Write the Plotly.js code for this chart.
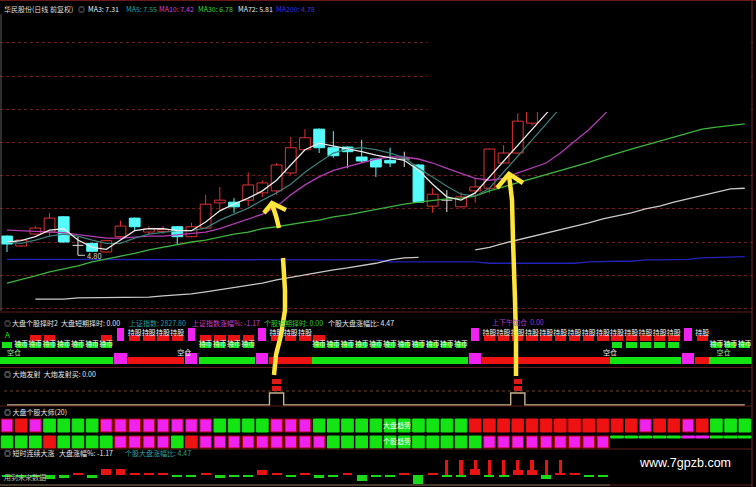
<!DOCTYPE html>
<html><head><meta charset="utf-8">
<script src="https://cdn.plot.ly/plotly-3.0.1.min.js"></script>
<style>html,body{margin:0;padding:0;background:#000;}#chart{width:756px;height:487px;}</style>
</head><body><div id="chart"></div>
<script>
// ---------------- DATA ----------------
const candleOpen  = [5.09,4.94,5.12,5.15,5.38,4.95,4.98,4.85,5.08,5.36,5.15,5.16,5.23,5.08,5.21,5.59,5.60,5.63,5.74,5.77,6.04,6.39,6.70,6.42,6.43,6.28,6.25,6.23,6.25,6.16,5.54,5.63,5.53,5.77,5.81,6.19,6.34,6.79];
const candleHigh  = [5.10,5.04,5.24,5.44,5.39,5.08,4.99,5.03,5.32,5.37,5.24,5.24,5.24,5.29,5.71,5.83,5.66,6.05,5.93,6.19,6.58,6.70,6.71,6.67,6.44,6.54,6.26,6.42,6.36,6.17,5.81,5.78,5.75,5.96,6.41,6.46,6.94,7.12];
const candleLow   = [4.85,4.93,5.11,5.08,4.99,4.80,4.85,4.84,5.07,5.18,5.12,5.12,4.97,5.07,5.20,5.48,5.44,5.54,5.68,5.71,6.01,6.37,6.34,6.27,6.11,6.19,5.98,6.13,6.13,5.59,5.44,5.45,5.52,5.59,5.74,6.18,6.33,6.75];
const candleClose = [4.97,5.03,5.21,5.36,5.00,4.95,4.86,5.02,5.24,5.23,5.20,5.19,5.08,5.23,5.57,5.63,5.53,5.86,5.89,6.16,6.42,6.57,6.42,6.30,6.36,6.22,6.13,6.19,6.25,5.60,5.72,5.63,5.68,5.83,6.40,6.34,6.82,7.05];

const ma3  = [5.00,5.02,5.08,5.18,5.20,5.03,4.92,4.89,5.03,5.17,5.20,5.20,5.17,5.17,5.30,5.47,5.57,5.66,5.77,5.93,6.16,6.39,6.49,6.45,6.40,6.36,6.31,6.27,6.23,6.08,5.87,5.68,5.63,5.74,5.98,6.22,6.45,6.69,6.93,7.17];
const ma5  = [5.00,4.98,5.03,5.09,5.12,5.09,5.03,4.98,4.98,5.06,5.12,5.15,5.17,5.17,5.21,5.33,5.42,5.51,5.63,5.74,5.87,6.05,6.20,6.34,6.40,6.42,6.39,6.34,6.27,6.11,5.98,5.84,5.72,5.69,5.81,6.05,6.30,6.54,6.78,7.02];
const ma10 = [5.18,5.17,5.17,5.15,5.14,5.11,5.08,5.06,5.06,5.08,5.09,5.09,5.11,5.12,5.15,5.20,5.27,5.35,5.42,5.53,5.71,5.86,5.98,6.08,6.14,6.20,6.25,6.28,6.28,6.25,6.19,6.11,6.04,5.96,5.93,5.96,6.04,6.11,6.19,6.34,6.51,6.69,6.90,7.14];
const ma30 = [4.38,4.43,4.49,4.55,4.59,4.64,4.70,4.74,4.79,4.83,4.88,4.92,4.97,5.00,5.03,5.08,5.12,5.15,5.20,5.23,5.27,5.30,5.33,5.38,5.41,5.45,5.50,5.54,5.57,5.60,5.63,5.65,5.66,5.69,5.77,5.83,5.89,5.95,6.01,6.07,6.14,6.20,6.27,6.34,6.40,6.46,6.52,6.58,6.64,6.70,6.73,6.76,6.78];
const ma72 = [null,null,4.14,4.14,4.14,4.16,4.16,4.16,4.17,4.17,4.17,4.19,4.20,4.22,4.25,4.28,4.31,4.34,4.38,4.43,4.47,4.50,4.55,4.58,4.61,4.64,4.68,4.73,4.76,4.77,null,null,null,4.88,4.92,4.98,5.03,5.09,5.14,5.18,5.24,5.29,5.35,5.39,5.44,5.50,5.54,5.60,5.65,5.69,5.75,5.80,5.81];
const ma200 = [4.74,4.74,4.74,4.74,4.74,4.74,4.74,4.74,4.74,4.74,4.74,4.74,4.74,4.74,4.74,4.73,4.73,4.73,4.73,4.73,4.73,4.73,4.73,4.73,4.73,4.73,4.73,4.70,4.70,4.70,4.70,4.70,4.70,4.70,4.68,4.68,4.68,4.68,4.68,4.68,4.68,4.70,4.71,4.71,4.71,4.73,4.73,4.73,4.74,4.76,4.77,4.78,4.78];

const maNames = ['MA3','MA5','MA10','MA30','MA72','MA200'];
const maLast  = ['7.31','7.55','7.42','6.78','5.81','4.78'];

// panel 2: 大盘个股择时2  (G=持币 green, R=持股 red, M=magenta switch, B=both)
const bandState  = 'GGGGGGGGMRRRRMGGGGMRRRGGGGGGGGGGGMRRRRRRRRRGGGGGMRGGG'.split('');
const shortState = 'GGBBGGGBMRRRRMBBBBMRRRBGGGGGGGGGGMRRRRRRRRRBBBBBMRGGG'.split('');
const shortLabel = '-CCCCCCC-SSSS-CCCC-SSSCCCCCCCCCCC-SSSSSSSSSSSSSS-SCCC'.split('');
const emptyBars  = [0, 12, 42, 50];   // 空仓

// panel 3: 大炮发射
const launch = [0,0,0,0,0,0,0,0,0,0,0,0,0,0,0,0,0,0,0,1,0,0,0,0,0,0,0,0,0,0,0,0,0,0,0,0,1,0,0,0,0,0,0,0,0,0,0,0,0,0,0,0,0];

// panel 4: 大盘个股大师(20)
const marketTrend = 'MRMGGGGMMMMMMMMGGGGMMMGGGGGGGGGGGRRRRRRRRRRRRMRRMRGGG'.split('');
const stockTrend  = 'GGGRGGGGMMMMGRMMMMMMMMMGGGGGGGGGGGMMMMMMMMMgggggmmggg'.split('');

// panel 5: 短时连续大涨
const dayChg = [-1,-1,-1,-4,-3,2,-3,5,5,1,2,1,-1,-1,1,-3,-1,-1,4,1,-2,2,-3,-1,1,-5,-1,-1,1,-8,1,-2,-2,5,-2,-2,4,4,-4,2,1,-1,-2];
const surge  = [0,0,0,0,0,0,0,0,0,0,0,0,0,0,0,0,0,0,0,0,0,0,0,0,0,0,0,0,0,0,0,1,1,1,1,1,1,1,1,1,0,0,0];

// ---------------- HELPERS ----------------
const W = 756, H = 487;
const FONT = '"Noto Sans CJK SC", "Noto Sans", sans-serif';
const px = x => x / W;
const py = y => 1 - y / H;
const dom = (top, bot) => [1 - bot / H, 1 - top / H];
const idx = Array.from({length: bandState.length}, (_, i) => i);

const GREEN = '#14e414', RED = '#ee1212', MAG = '#f022f0';
const COL = {G: GREEN, R: RED, M: MAG, g: GREEN, m: MAG};
const UP = '#dc3232', DN = '#54fcfc', DOJI = '#e6e6e6';

function label(text, x, y, color, size, family) {
  return {text, x: px(x), y: py(y), xref: 'paper', yref: 'paper', xanchor: 'left', yanchor: 'middle',
    showarrow: false, font: {family: family || FONT, size: size || 7, color: color}};
}
function hline(y, x0, x1, color, dash) {
  return {type: 'line', xref: 'paper', yref: 'paper', x0: px(x0), x1: px(x1), y0: py(y), y1: py(y),
    line: {color: color, width: 1, dash: dash || 'solid'}, layer: 'above'};
}
function pathPx(points) {
  return points.map((p, i) => (i ? 'L' : 'M') + px(p[0]).toFixed(5) + ',' + py(p[1]).toFixed(5)).join(' ');
}

// ---------------- TRACES ----------------
const traces = [];
const cx = candleOpen.map((_, i) => i);
const upC = cx.filter(i => candleClose[i] > candleOpen[i]);
const dnC = cx.filter(i => candleClose[i] < candleOpen[i]);
const djC = cx.filter(i => candleClose[i] === candleOpen[i]);
const BODY_W = 0.76;

// candle bodies
traces.push({type: 'bar', x: upC, base: upC.map(i => candleOpen[i]), y: upC.map(i => candleClose[i] - candleOpen[i]),
  width: BODY_W, marker: {color: '#000000', line: {color: UP, width: 1}}, xaxis: 'x', yaxis: 'y', hoverinfo: 'skip'});
traces.push({type: 'bar', x: dnC, base: dnC.map(i => candleClose[i]), y: dnC.map(i => candleOpen[i] - candleClose[i]),
  width: BODY_W, marker: {color: DN, line: {color: DN, width: 1}}, xaxis: 'x', yaxis: 'y', hoverinfo: 'skip'});
// wicks (upper and lower shadows, outside the body)
function wicks(ids) {
  const x = [], y = [];
  ids.forEach(i => {
    const top = Math.max(candleOpen[i], candleClose[i]), bot = Math.min(candleOpen[i], candleClose[i]);
    x.push(i, i, null, i, i, null);
    y.push(candleHigh[i], top, null, bot, candleLow[i], null);
  });
  return {x, y};
}
[[upC, UP], [dnC, DN], [djC, DOJI]].forEach(([ids, c]) => {
  const w = wicks(ids);
  traces.push({type: 'scatter', mode: 'lines', x: w.x, y: w.y, line: {color: c, width: 1}, connectgaps: false,
    xaxis: 'x', yaxis: 'y', hoverinfo: 'skip'});
});
// doji cross bars
const djx = [], djy = [];
djC.forEach(i => { djx.push(i - BODY_W / 2, i + BODY_W / 2, null); djy.push(candleOpen[i], candleOpen[i], null); });
traces.push({type: 'scatter', mode: 'lines', x: djx, y: djy, line: {color: DOJI, width: 1}, connectgaps: false,
  xaxis: 'x', yaxis: 'y', hoverinfo: 'skip'});

const maSeries = [[ma200, '#2222b8'], [ma72, '#c8c8c8'], [ma30, '#3cb43c'], [ma10, '#b43cb4'], [ma5, '#3a7c78'], [ma3, '#e8e8e8']];
maSeries.forEach(([arr, c]) => traces.push({type: 'scatter', mode: 'lines', x: idx.slice(0, arr.length), y: arr,
  line: {color: c, width: 1.3}, connectgaps: false, xaxis: 'x', yaxis: 'y', hoverinfo: 'skip'}));

// panel 2
traces.push({type: 'bar', x: idx, y: bandState.map(s => s === 'M' ? 11 : 7), base: 2,
  width: bandState.map(s => s === 'M' ? 0.85 : 1.0), marker: {color: bandState.map(s => COL[s]), line: {width: 0}},
  xaxis: 'x', yaxis: 'y2', hoverinfo: 'skip'});
const upRed = idx.filter(i => shortState[i] === 'R' || shortState[i] === 'B');
const upGreen = idx.filter(i => shortState[i] === 'G' || shortState[i] === 'B');
const upMag = idx.filter(i => shortState[i] === 'M');
traces.push({type: 'bar', x: upRed, y: upRed.map(() => 6), base: 25, width: 0.8,
  marker: {color: '#e81414', line: {width: 0}}, xaxis: 'x', yaxis: 'y2', hoverinfo: 'skip'});
traces.push({type: 'bar', x: upGreen, y: upGreen.map(() => 6), base: 18, width: 0.76,
  marker: {color: '#18e018', line: {width: 0}}, xaxis: 'x', yaxis: 'y2', hoverinfo: 'skip'});
traces.push({type: 'bar', x: upMag, y: upMag.map(() => 13), base: 25, width: 0.55,
  marker: {color: MAG, line: {width: 0}}, xaxis: 'x', yaxis: 'y2', hoverinfo: 'skip'});
const lblS = idx.filter(i => shortLabel[i] === 'S');
const lblC = idx.filter(i => shortLabel[i] === 'C');
traces.push({type: 'scatter', mode: 'text', x: lblS, y: lblS.map(() => 33), text: lblS.map(() => '持股'),
  textfont: {family: FONT, size: 7, color: '#f4f4f4'}, cliponaxis: false, xaxis: 'x', yaxis: 'y2', hoverinfo: 'skip'});
traces.push({type: 'scatter', mode: 'text', x: lblC, y: lblC.map(() => 21.5), text: lblC.map(() => '持币'),
  textfont: {family: FONT, size: 7, color: '#f4f4f4'}, cliponaxis: false, xaxis: 'x', yaxis: 'y2', hoverinfo: 'skip'});
traces.push({type: 'scatter', mode: 'text', x: emptyBars, y: emptyBars.map(() => 12.5), text: emptyBars.map(() => '空仓'),
  textposition: 'middle right', textfont: {family: FONT, size: 7, color: emptyBars.map((b, k) => (k === 0 || k === 3) ? '#9ce89c' : '#f0f0f0')},
  cliponaxis: false, xaxis: 'x', yaxis: 'y2', hoverinfo: 'skip'});

// panel 3
traces.push({type: 'scatter', mode: 'lines', x: idx, y: launch, line: {color: '#c8b48c', width: 1.4, shape: 'hvh'},
  xaxis: 'x', yaxis: 'y3', hoverinfo: 'skip'});
const fire = idx.filter(i => launch[i] === 1);
const fireX = fire.concat(fire);
traces.push({type: 'bar', x: fireX, y: fireX.map(() => 0.42), base: fire.map(() => 1.17).concat(fire.map(() => 1.75)),
  width: 0.6, marker: {color: '#e01818', line: {width: 0}}, xaxis: 'x', yaxis: 'y3', hoverinfo: 'skip'});

// panel 4
traces.push({type: 'bar', x: idx, y: idx.map(() => 13), base: 16, width: 0.82,
  marker: {color: marketTrend.map(s => COL[s]), line: {color: marketTrend.map(s => s === 'M' ? '#b80000' : COL[s]), width: 1}},
  xaxis: 'x', yaxis: 'y4', hoverinfo: 'skip'});
traces.push({type: 'bar', x: idx, y: stockTrend.map(s => (s === 'g' || s === 'm') ? 2 : 12),
  base: stockTrend.map(s => (s === 'g' || s === 'm') ? 10 : 0), width: stockTrend.map(s => (s === 'g' || s === 'm') ? 0.9 : 0.82),
  marker: {color: stockTrend.map(s => COL[s]), line: {color: stockTrend.map(s => s === 'M' ? '#b80000' : COL[s]), width: 1}},
  xaxis: 'x', yaxis: 'y4', hoverinfo: 'skip'});

// panel 5
const d5 = dayChg.map((_, i) => i);
traces.push({type: 'bar', x: d5, y: dayChg.map(v => v > 0 ? Math.max(v * 1.2, 2) : -Math.max(-v * 1.2, 2.5)),
  base: dayChg.map(v => v > 0 ? 0 : 0.5), width: 0.7,
  marker: {color: dayChg.map(v => v > 0 ? '#e81414' : '#18d818'), line: {width: 0}}, xaxis: 'x', yaxis: 'y5', hoverinfo: 'skip'});
const stems = d5.filter(i => surge[i] === 1);
traces.push({type: 'bar', x: stems, y: stems.map(() => 15), base: 0, width: 0.22,
  marker: {color: '#e81414', line: {width: 0}}, xaxis: 'x', yaxis: 'y5', hoverinfo: 'skip'});

// ---------------- LAYOUT ----------------
const noAx = {showgrid: false, zeroline: false, showticklabels: false, showline: false, ticks: '', anchor: 'x', fixedrange: true};
const annotations = [];
// title row
annotations.push(label('华民股份(日线 前复权)', 2, 9, '#dcdcdc'));
annotations.push(label('◎', 76, 9, '#bdbdbd'));
const maCols = ['#e8e8e8', '#2fa3a3', '#d545d5', '#3fd33f', '#e8e8e8', '#3434e0'];
const maX = [86, 124, 157, 196, 236, 274];
maNames.forEach((n, k) => annotations.push(label(n + ': ' + maLast[k], maX[k], 9, maCols[k])));
// 4.80 low marker
annotations.push({x: 5, y: 4.80, xref: 'x', yref: 'y', text: '4.80', showarrow: true, arrowhead: 0, arrowwidth: 1,
  arrowcolor: '#d0d0d0', ax: 7, ay: 0, xanchor: 'left', standoff: 0, font: {family: FONT, size: 7.5, color: '#d8d8d8'}});
// panel 2 header
annotations.push(label('◎', 2, 323, '#bdbdbd'));
annotations.push(label('大盘个股择时2  大盘短期择时: 0.00', 10, 323, '#e6e6e6'));
annotations.push(label('上证指数: 2827.80', 127, 323, '#2f9f9f'));
annotations.push(label('上证指数涨幅%: -1.17', 190, 323, '#c640c6'));
annotations.push(label('个股短期择时: 0.00', 262, 323, '#34c834'));
annotations.push(label('个股大盘涨幅比: 4.47', 326, 323, '#e6e6e6'));
annotations.push(label('上下午加仓  0.00', 490, 322, '#a03cc8'));
annotations.push(label('A', 3, 334, '#22dd22', 8));
// panel 3 header
annotations.push(label('◎ 大炮发射  大炮发射买: 0.00', 2, 374, '#e6e6e6'));
// panel 4 header
annotations.push(label('◎ 大盘个股大师(20)', 2, 412, '#e6e6e6'));
annotations.push(label('大盘趋势', 381, 425, '#f4f4f4'));
annotations.push(label('个股趋势', 381, 441, '#f4f4f4'));
// panel 5 header
annotations.push(label('◎ 短时连续大涨', 2, 453, '#e6e6e6'));
annotations.push(label('大盘涨幅%: -1.17', 57, 453, '#e6e6e6'));
annotations.push(label('个股大盘涨幅比: 4.47', 123, 453, '#2f9f9f'));
annotations.push(label('用到未来数据', 2, 477, '#b4c8b4'));
annotations.push(label('www.7gpzb.com', 637, 463, '#ffffff', 12.5, '"Liberation Sans", Arial, sans-serif'));

const SEP = '#5e1c1c';
const YEL = '#ffe43a';
const shapes = [
  // censored top-right area
  {type: 'rect', xref: 'paper', yref: 'paper', x0: px(427), x1: px(751), y0: py(112), y1: py(14),
    fillcolor: '#000000', line: {width: 0}, layer: 'above'},
  hline(0.5, 0, 756, '#6a1818'),
  hline(312, 0, 752, SEP), hline(367.5, 0, 752, SEP), hline(406, 0, 752, SEP), hline(449, 0, 752, SEP),
  hline(485, 0, 610, '#8c7458'), hline(485, 610, 752, SEP),
  hline(391, 4, 752, '#6e4422', 'dot'),
  {type: 'line', xref: 'paper', yref: 'paper', x0: px(752), x1: px(752), y0: py(0), y1: py(487), line: {color: '#7a2424', width: 1}, layer: 'above'},
  {type: 'line', xref: 'paper', yref: 'paper', x0: px(1), x1: px(1), y0: py(14), y1: py(311), line: {color: '#5a5a5a', width: 1}, layer: 'above'},
  // hand-drawn yellow arrows
  {type: 'path', xref: 'paper', yref: 'paper', path: pathPx([[264, 213], [272, 203], [286, 210]]), line: {color: YEL, width: 4.5}, layer: 'above'},
  {type: 'path', xref: 'paper', yref: 'paper', path: pathPx([[272, 204], [276, 216], [279, 228]]), line: {color: YEL, width: 4.5}, layer: 'above'},
  {type: 'path', xref: 'paper', yref: 'paper', path: pathPx([[283, 258], [285, 290], [285, 310], [281, 335], [276, 355], [274, 375]]), line: {color: YEL, width: 4.5}, layer: 'above'},
  {type: 'path', xref: 'paper', yref: 'paper', path: pathPx([[497, 188], [509, 174], [523, 183]]), line: {color: YEL, width: 4.5}, layer: 'above'},
  {type: 'path', xref: 'paper', yref: 'paper', path: pathPx([[509, 175], [512, 200], [513, 240], [515, 300], [516, 340], [516, 376]]), line: {color: YEL, width: 4.5}, layer: 'above'}
];

const layout = {
  width: W, height: H, margin: {l: 0, r: 0, t: 0, b: 0}, autosize: false,
  paper_bgcolor: '#000000', plot_bgcolor: '#000000', showlegend: false,
  barmode: 'overlay', bargap: 0, hovermode: false,
  xaxis: {range: [-0.493, 52.79], domain: [0, 1], showgrid: false, zeroline: false, showticklabels: false,
    showline: false, ticks: '', fixedrange: true, anchor: 'y'},
  yaxis: {domain: dom(14, 311), range: [3.961, 8.434], tick0: 0, dtick: 0.5, showgrid: true,
    gridcolor: '#6e1e1e', griddash: 'dot', gridwidth: 1, zeroline: false, showticklabels: false, ticks: '', anchor: 'x', fixedrange: true},
  yaxis2: Object.assign({domain: dom(313, 367), range: [-1, 53]}, noAx),
  yaxis3: Object.assign({domain: dom(368, 406), range: [-0.0833, 3.0833]}, noAx),
  yaxis4: Object.assign({domain: dom(407, 449), range: [-1, 41]}, noAx),
  yaxis5: Object.assign({domain: dom(450, 486), range: [-11, 25]}, noAx),
  annotations: annotations, shapes: shapes
};

Plotly.newPlot('chart', traces, layout, {staticPlot: true, displayModeBar: false});
</script>
</body></html>
